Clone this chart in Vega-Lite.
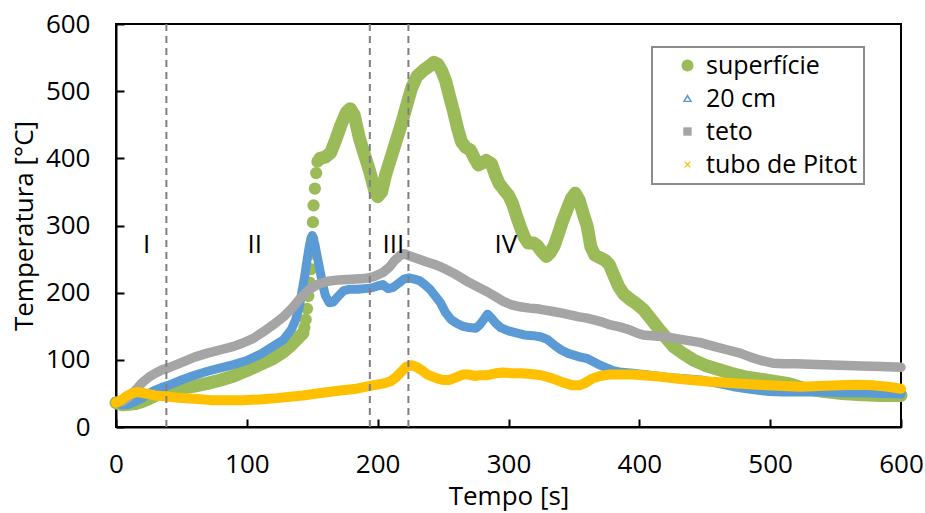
{
  "$schema": "https://vega.github.io/schema/vega-lite/v6.json",
  "width": 785,
  "height": 403,
  "autosize": {"type": "none"},
  "padding": {"left": 116, "top": 24, "right": 24, "bottom": 86},
  "background": "white",
  "config": {
    "font": "Open Sans",
    "view": {"stroke": "black", "strokeWidth": 2},
    "axis": {
      "grid": false,
      "domainColor": "black",
      "domainWidth": 2,
      "tickColor": "black",
      "tickWidth": 2,
      "tickSize": -8,
      "labelFontSize": 26,
      "labelColor": "black",
      "labelPadding": 34,
      "labelFlush": false,
      "titleFontSize": 26,
      "titleFontWeight": "normal",
      "titleColor": "black"
    },
    "legend": {
      "orient": "none",
      "legendX": 536,
      "legendY": 23,
      "strokeColor": "#8c8c8c",
      "strokeWidth": 2,
      "padding": 6,
      "labelFontSize": 25,
      "labelColor": "black",
      "symbolSize": 144,
      "rowPadding": 7,
      "symbolOffset": 17,
      "labelOffset": 6,
      "symbolStrokeWidth": 0
    }
  },
  "datasets": {
    "temps": [
      {"t": 0, "T": 36, "s": "superfície"}, {"t": 5, "T": 33, "s": "superfície"}, {"t": 10, "T": 34, "s": "superfície"}, {"t": 15, "T": 35, "s": "superfície"}, {"t": 20, "T": 38, "s": "superfície"}, {"t": 25, "T": 42, "s": "superfície"}, {"t": 30, "T": 47, "s": "superfície"}, {"t": 35, "T": 52, "s": "superfície"}, {"t": 40, "T": 55, "s": "superfície"}, {"t": 50, "T": 58, "s": "superfície"}, {"t": 60, "T": 61, "s": "superfície"}, {"t": 70, "T": 65, "s": "superfície"}, {"t": 80, "T": 70, "s": "superfície"}, {"t": 90, "T": 76, "s": "superfície"}, {"t": 100, "T": 84, "s": "superfície"}, {"t": 110, "T": 93, "s": "superfície"}, {"t": 120, "T": 102, "s": "superfície"}, {"t": 128, "T": 112, "s": "superfície"}, {"t": 134, "T": 122, "s": "superfície"}, {"t": 139, "T": 132, "s": "superfície"}, {"t": 143, "T": 140, "s": "superfície"},
      {"t": 144, "T": 148, "s": "superfície"}, {"t": 145, "T": 160, "s": "superfície"}, {"t": 146, "T": 176, "s": "superfície"}, {"t": 147, "T": 195, "s": "superfície"}, {"t": 148, "T": 215, "s": "superfície"}, {"t": 149, "T": 235, "s": "superfície"}, {"t": 149.5, "T": 258, "s": "superfície"}, {"t": 150, "T": 280, "s": "superfície"}, {"t": 150.5, "T": 305, "s": "superfície"}, {"t": 151, "T": 330, "s": "superfície"}, {"t": 152, "T": 355, "s": "superfície"}, {"t": 153, "T": 378, "s": "superfície"}, {"t": 154, "T": 395, "s": "superfície"},
      {"t": 156, "T": 400, "s": "superfície"}, {"t": 160, "T": 402, "s": "superfície"}, {"t": 164, "T": 408, "s": "superfície"}, {"t": 168, "T": 428, "s": "superfície"}, {"t": 172, "T": 450, "s": "superfície"}, {"t": 176, "T": 468, "s": "superfície"}, {"t": 179, "T": 474, "s": "superfície"}, {"t": 182, "T": 465, "s": "superfície"}, {"t": 186, "T": 430, "s": "superfície"}, {"t": 190, "T": 405, "s": "superfície"}, {"t": 194, "T": 380, "s": "superfície"}, {"t": 198, "T": 350, "s": "superfície"}, {"t": 200, "T": 343, "s": "superfície"}, {"t": 203, "T": 350, "s": "superfície"}, {"t": 206, "T": 375, "s": "superfície"}, {"t": 210, "T": 400, "s": "superfície"}, {"t": 214, "T": 425, "s": "superfície"}, {"t": 218, "T": 450, "s": "superfície"}, {"t": 222, "T": 478, "s": "superfície"}, {"t": 226, "T": 505, "s": "superfície"}, {"t": 230, "T": 522, "s": "superfície"}, {"t": 235, "T": 531, "s": "superfície"}, {"t": 240, "T": 538, "s": "superfície"}, {"t": 243, "T": 543, "s": "superfície"}, {"t": 246, "T": 540, "s": "superfície"}, {"t": 249, "T": 530, "s": "superfície"}, {"t": 252, "T": 515, "s": "superfície"}, {"t": 255, "T": 492, "s": "superfície"}, {"t": 258, "T": 470, "s": "superfície"}, {"t": 261, "T": 445, "s": "superfície"}, {"t": 264, "T": 425, "s": "superfície"}, {"t": 267, "T": 417, "s": "superfície"}, {"t": 271, "T": 412, "s": "superfície"}, {"t": 274, "T": 400, "s": "superfície"}, {"t": 277, "T": 390, "s": "superfície"}, {"t": 280, "T": 393, "s": "superfície"}, {"t": 283, "T": 397, "s": "superfície"}, {"t": 287, "T": 392, "s": "superfície"}, {"t": 290, "T": 375, "s": "superfície"}, {"t": 293, "T": 362, "s": "superfície"}, {"t": 297, "T": 352, "s": "superfície"}, {"t": 300, "T": 345, "s": "superfície"}, {"t": 303, "T": 333, "s": "superfície"}, {"t": 306, "T": 315, "s": "superfície"}, {"t": 309, "T": 298, "s": "superfície"}, {"t": 312, "T": 283, "s": "superfície"}, {"t": 315, "T": 274, "s": "superfície"}, {"t": 319, "T": 274, "s": "superfície"}, {"t": 322, "T": 270, "s": "superfície"}, {"t": 325, "T": 262, "s": "superfície"}, {"t": 329, "T": 254, "s": "superfície"}, {"t": 332, "T": 260, "s": "superfície"}, {"t": 335, "T": 270, "s": "superfície"}, {"t": 338, "T": 287, "s": "superfície"}, {"t": 341, "T": 305, "s": "superfície"}, {"t": 345, "T": 325, "s": "superfície"}, {"t": 348, "T": 340, "s": "superfície"}, {"t": 351, "T": 348, "s": "superfície"}, {"t": 354, "T": 338, "s": "superfície"}, {"t": 357, "T": 318, "s": "superfície"}, {"t": 360, "T": 300, "s": "superfície"}, {"t": 363, "T": 268, "s": "superfície"}, {"t": 366, "T": 256, "s": "superfície"}, {"t": 370, "T": 252, "s": "superfície"}, {"t": 374, "T": 248, "s": "superfície"}, {"t": 377, "T": 242, "s": "superfície"}, {"t": 380, "T": 228, "s": "superfície"}, {"t": 384, "T": 210, "s": "superfície"}, {"t": 388, "T": 198, "s": "superfície"}, {"t": 393, "T": 190, "s": "superfície"}, {"t": 398, "T": 183, "s": "superfície"}, {"t": 403, "T": 175, "s": "superfície"}, {"t": 408, "T": 163, "s": "superfície"}, {"t": 414, "T": 148, "s": "superfície"}, {"t": 420, "T": 134, "s": "superfície"}, {"t": 426, "T": 120, "s": "superfície"}, {"t": 433, "T": 110, "s": "superfície"}, {"t": 441, "T": 100, "s": "superfície"}, {"t": 450, "T": 92, "s": "superfície"}, {"t": 460, "T": 86, "s": "superfície"}, {"t": 470, "T": 80, "s": "superfície"}, {"t": 480, "T": 75, "s": "superfície"}, {"t": 490, "T": 72, "s": "superfície"}, {"t": 500, "T": 69, "s": "superfície"}, {"t": 513, "T": 65, "s": "superfície"}, {"t": 525, "T": 58, "s": "superfície"}, {"t": 540, "T": 53, "s": "superfície"}, {"t": 555, "T": 50, "s": "superfície"}, {"t": 570, "T": 48, "s": "superfície"}, {"t": 585, "T": 47, "s": "superfície"}, {"t": 600, "T": 47, "s": "superfície"},

      {"t": 0, "T": 36, "s": "20 cm"}, {"t": 5, "T": 33, "s": "20 cm"}, {"t": 10, "T": 34, "s": "20 cm"}, {"t": 15, "T": 38, "s": "20 cm"}, {"t": 20, "T": 43, "s": "20 cm"}, {"t": 25, "T": 50, "s": "20 cm"}, {"t": 30, "T": 55, "s": "20 cm"}, {"t": 35, "T": 59, "s": "20 cm"}, {"t": 40, "T": 62, "s": "20 cm"}, {"t": 50, "T": 70, "s": "20 cm"}, {"t": 60, "T": 77, "s": "20 cm"}, {"t": 70, "T": 83, "s": "20 cm"}, {"t": 80, "T": 88, "s": "20 cm"}, {"t": 90, "T": 93, "s": "20 cm"}, {"t": 100, "T": 99, "s": "20 cm"}, {"t": 110, "T": 108, "s": "20 cm"}, {"t": 120, "T": 120, "s": "20 cm"}, {"t": 128, "T": 130, "s": "20 cm"}, {"t": 134, "T": 145, "s": "20 cm"}, {"t": 137, "T": 158, "s": "20 cm"}, {"t": 140, "T": 178, "s": "20 cm"}, {"t": 142, "T": 200, "s": "20 cm"}, {"t": 144, "T": 222, "s": "20 cm"}, {"t": 146, "T": 248, "s": "20 cm"}, {"t": 148, "T": 272, "s": "20 cm"}, {"t": 150, "T": 285, "s": "20 cm"}, {"t": 152, "T": 272, "s": "20 cm"}, {"t": 154, "T": 252, "s": "20 cm"}, {"t": 156, "T": 232, "s": "20 cm"}, {"t": 158, "T": 212, "s": "20 cm"}, {"t": 160, "T": 196, "s": "20 cm"}, {"t": 163, "T": 185, "s": "20 cm"}, {"t": 166, "T": 186, "s": "20 cm"}, {"t": 170, "T": 195, "s": "20 cm"}, {"t": 174, "T": 203, "s": "20 cm"}, {"t": 178, "T": 205, "s": "20 cm"}, {"t": 185, "T": 205, "s": "20 cm"}, {"t": 190, "T": 206, "s": "20 cm"}, {"t": 195, "T": 207, "s": "20 cm"}, {"t": 200, "T": 210, "s": "20 cm"}, {"t": 204, "T": 212, "s": "20 cm"}, {"t": 208, "T": 206, "s": "20 cm"}, {"t": 212, "T": 208, "s": "20 cm"}, {"t": 216, "T": 214, "s": "20 cm"}, {"t": 220, "T": 220, "s": "20 cm"}, {"t": 224, "T": 222, "s": "20 cm"}, {"t": 228, "T": 220, "s": "20 cm"}, {"t": 232, "T": 218, "s": "20 cm"}, {"t": 236, "T": 212, "s": "20 cm"}, {"t": 240, "T": 205, "s": "20 cm"}, {"t": 244, "T": 195, "s": "20 cm"}, {"t": 248, "T": 185, "s": "20 cm"}, {"t": 252, "T": 170, "s": "20 cm"}, {"t": 256, "T": 160, "s": "20 cm"}, {"t": 260, "T": 155, "s": "20 cm"}, {"t": 265, "T": 150, "s": "20 cm"}, {"t": 270, "T": 148, "s": "20 cm"}, {"t": 275, "T": 147, "s": "20 cm"}, {"t": 278, "T": 152, "s": "20 cm"}, {"t": 281, "T": 160, "s": "20 cm"}, {"t": 284, "T": 168, "s": "20 cm"}, {"t": 287, "T": 162, "s": "20 cm"}, {"t": 290, "T": 155, "s": "20 cm"}, {"t": 294, "T": 148, "s": "20 cm"}, {"t": 300, "T": 143, "s": "20 cm"}, {"t": 306, "T": 140, "s": "20 cm"}, {"t": 312, "T": 137, "s": "20 cm"}, {"t": 319, "T": 136, "s": "20 cm"}, {"t": 325, "T": 134, "s": "20 cm"}, {"t": 330, "T": 130, "s": "20 cm"}, {"t": 335, "T": 122, "s": "20 cm"}, {"t": 340, "T": 115, "s": "20 cm"}, {"t": 345, "T": 110, "s": "20 cm"}, {"t": 350, "T": 107, "s": "20 cm"}, {"t": 355, "T": 104, "s": "20 cm"}, {"t": 360, "T": 102, "s": "20 cm"}, {"t": 365, "T": 97, "s": "20 cm"}, {"t": 370, "T": 92, "s": "20 cm"}, {"t": 375, "T": 88, "s": "20 cm"}, {"t": 380, "T": 84, "s": "20 cm"}, {"t": 385, "T": 82, "s": "20 cm"}, {"t": 395, "T": 80, "s": "20 cm"}, {"t": 405, "T": 78, "s": "20 cm"}, {"t": 420, "T": 74, "s": "20 cm"}, {"t": 435, "T": 72, "s": "20 cm"}, {"t": 447, "T": 70, "s": "20 cm"}, {"t": 460, "T": 65, "s": "20 cm"}, {"t": 472, "T": 60, "s": "20 cm"}, {"t": 485, "T": 56, "s": "20 cm"}, {"t": 498, "T": 53, "s": "20 cm"}, {"t": 510, "T": 52, "s": "20 cm"}, {"t": 525, "T": 52, "s": "20 cm"}, {"t": 540, "T": 52, "s": "20 cm"}, {"t": 555, "T": 51, "s": "20 cm"}, {"t": 570, "T": 51, "s": "20 cm"}, {"t": 585, "T": 50, "s": "20 cm"}, {"t": 600, "T": 49, "s": "20 cm"},

      {"t": 0, "T": 36, "s": "teto"}, {"t": 5, "T": 38, "s": "teto"}, {"t": 10, "T": 45, "s": "teto"}, {"t": 15, "T": 55, "s": "teto"}, {"t": 20, "T": 66, "s": "teto"}, {"t": 25, "T": 74, "s": "teto"}, {"t": 30, "T": 80, "s": "teto"}, {"t": 35, "T": 85, "s": "teto"}, {"t": 40, "T": 88, "s": "teto"}, {"t": 50, "T": 96, "s": "teto"}, {"t": 60, "T": 104, "s": "teto"}, {"t": 70, "T": 110, "s": "teto"}, {"t": 80, "T": 115, "s": "teto"}, {"t": 90, "T": 120, "s": "teto"}, {"t": 97, "T": 125, "s": "teto"}, {"t": 105, "T": 132, "s": "teto"}, {"t": 112, "T": 141, "s": "teto"}, {"t": 120, "T": 152, "s": "teto"}, {"t": 128, "T": 164, "s": "teto"}, {"t": 135, "T": 178, "s": "teto"}, {"t": 141, "T": 192, "s": "teto"}, {"t": 148, "T": 205, "s": "teto"}, {"t": 155, "T": 213, "s": "teto"}, {"t": 162, "T": 217, "s": "teto"}, {"t": 170, "T": 219, "s": "teto"}, {"t": 180, "T": 220, "s": "teto"}, {"t": 190, "T": 221, "s": "teto"}, {"t": 197, "T": 224, "s": "teto"}, {"t": 204, "T": 230, "s": "teto"}, {"t": 209, "T": 238, "s": "teto"}, {"t": 213, "T": 248, "s": "teto"}, {"t": 217, "T": 255, "s": "teto"}, {"t": 220, "T": 258, "s": "teto"}, {"t": 224, "T": 255, "s": "teto"}, {"t": 230, "T": 251, "s": "teto"}, {"t": 237, "T": 246, "s": "teto"}, {"t": 245, "T": 241, "s": "teto"}, {"t": 252, "T": 235, "s": "teto"}, {"t": 258, "T": 229, "s": "teto"}, {"t": 264, "T": 222, "s": "teto"}, {"t": 270, "T": 215, "s": "teto"}, {"t": 277, "T": 208, "s": "teto"}, {"t": 284, "T": 201, "s": "teto"}, {"t": 290, "T": 194, "s": "teto"}, {"t": 296, "T": 187, "s": "teto"}, {"t": 302, "T": 182, "s": "teto"}, {"t": 309, "T": 179, "s": "teto"}, {"t": 316, "T": 177, "s": "teto"}, {"t": 322, "T": 176, "s": "teto"}, {"t": 328, "T": 174, "s": "teto"}, {"t": 334, "T": 172, "s": "teto"}, {"t": 340, "T": 170, "s": "teto"}, {"t": 347, "T": 167, "s": "teto"}, {"t": 354, "T": 164, "s": "teto"}, {"t": 360, "T": 162, "s": "teto"}, {"t": 366, "T": 159, "s": "teto"}, {"t": 372, "T": 156, "s": "teto"}, {"t": 378, "T": 152, "s": "teto"}, {"t": 385, "T": 149, "s": "teto"}, {"t": 392, "T": 145, "s": "teto"}, {"t": 398, "T": 140, "s": "teto"}, {"t": 403, "T": 137, "s": "teto"}, {"t": 410, "T": 136, "s": "teto"}, {"t": 421, "T": 134, "s": "teto"}, {"t": 433, "T": 130, "s": "teto"}, {"t": 446, "T": 126, "s": "teto"}, {"t": 457, "T": 120, "s": "teto"}, {"t": 467, "T": 115, "s": "teto"}, {"t": 477, "T": 110, "s": "teto"}, {"t": 485, "T": 104, "s": "teto"}, {"t": 493, "T": 99, "s": "teto"}, {"t": 502, "T": 95, "s": "teto"}, {"t": 510, "T": 94, "s": "teto"}, {"t": 520, "T": 94, "s": "teto"}, {"t": 535, "T": 93, "s": "teto"}, {"t": 553, "T": 92, "s": "teto"}, {"t": 570, "T": 91, "s": "teto"}, {"t": 585, "T": 90, "s": "teto"}, {"t": 600, "T": 89, "s": "teto"},

      {"t": 0, "T": 36, "s": "tubo de Pitot"}, {"t": 4, "T": 40, "s": "tubo de Pitot"}, {"t": 8, "T": 46, "s": "tubo de Pitot"}, {"t": 12, "T": 50, "s": "tubo de Pitot"}, {"t": 16, "T": 52, "s": "tubo de Pitot"}, {"t": 20, "T": 51, "s": "tubo de Pitot"}, {"t": 25, "T": 49, "s": "tubo de Pitot"}, {"t": 30, "T": 47, "s": "tubo de Pitot"}, {"t": 40, "T": 45, "s": "tubo de Pitot"}, {"t": 50, "T": 43, "s": "tubo de Pitot"}, {"t": 60, "T": 42, "s": "tubo de Pitot"}, {"t": 72, "T": 40, "s": "tubo de Pitot"}, {"t": 85, "T": 40, "s": "tubo de Pitot"}, {"t": 97, "T": 40, "s": "tubo de Pitot"}, {"t": 110, "T": 41, "s": "tubo de Pitot"}, {"t": 123, "T": 43, "s": "tubo de Pitot"}, {"t": 133, "T": 45, "s": "tubo de Pitot"}, {"t": 143, "T": 47, "s": "tubo de Pitot"}, {"t": 158, "T": 51, "s": "tubo de Pitot"}, {"t": 170, "T": 54, "s": "tubo de Pitot"}, {"t": 184, "T": 57, "s": "tubo de Pitot"}, {"t": 196, "T": 62, "s": "tubo de Pitot"}, {"t": 205, "T": 65, "s": "tubo de Pitot"}, {"t": 210, "T": 68, "s": "tubo de Pitot"}, {"t": 214, "T": 74, "s": "tubo de Pitot"}, {"t": 218, "T": 82, "s": "tubo de Pitot"}, {"t": 222, "T": 90, "s": "tubo de Pitot"}, {"t": 226, "T": 92, "s": "tubo de Pitot"}, {"t": 230, "T": 89, "s": "tubo de Pitot"}, {"t": 234, "T": 84, "s": "tubo de Pitot"}, {"t": 238, "T": 78, "s": "tubo de Pitot"}, {"t": 242, "T": 75, "s": "tubo de Pitot"}, {"t": 246, "T": 72, "s": "tubo de Pitot"}, {"t": 250, "T": 70, "s": "tubo de Pitot"}, {"t": 255, "T": 70, "s": "tubo de Pitot"}, {"t": 260, "T": 74, "s": "tubo de Pitot"}, {"t": 265, "T": 78, "s": "tubo de Pitot"}, {"t": 270, "T": 78, "s": "tubo de Pitot"}, {"t": 274, "T": 76, "s": "tubo de Pitot"}, {"t": 278, "T": 77, "s": "tubo de Pitot"}, {"t": 283, "T": 77, "s": "tubo de Pitot"}, {"t": 290, "T": 80, "s": "tubo de Pitot"}, {"t": 296, "T": 81, "s": "tubo de Pitot"}, {"t": 303, "T": 80, "s": "tubo de Pitot"}, {"t": 310, "T": 80, "s": "tubo de Pitot"}, {"t": 317, "T": 79, "s": "tubo de Pitot"}, {"t": 325, "T": 77, "s": "tubo de Pitot"}, {"t": 334, "T": 72, "s": "tubo de Pitot"}, {"t": 342, "T": 66, "s": "tubo de Pitot"}, {"t": 349, "T": 62, "s": "tubo de Pitot"}, {"t": 354, "T": 62, "s": "tubo de Pitot"}, {"t": 358, "T": 65, "s": "tubo de Pitot"}, {"t": 364, "T": 72, "s": "tubo de Pitot"}, {"t": 370, "T": 76, "s": "tubo de Pitot"}, {"t": 377, "T": 78, "s": "tubo de Pitot"}, {"t": 385, "T": 78, "s": "tubo de Pitot"}, {"t": 395, "T": 78, "s": "tubo de Pitot"}, {"t": 403, "T": 77, "s": "tubo de Pitot"}, {"t": 415, "T": 75, "s": "tubo de Pitot"}, {"t": 433, "T": 71, "s": "tubo de Pitot"}, {"t": 450, "T": 68, "s": "tubo de Pitot"}, {"t": 472, "T": 65, "s": "tubo de Pitot"}, {"t": 490, "T": 63, "s": "tubo de Pitot"}, {"t": 510, "T": 61, "s": "tubo de Pitot"}, {"t": 523, "T": 60, "s": "tubo de Pitot"}, {"t": 538, "T": 61, "s": "tubo de Pitot"}, {"t": 553, "T": 62, "s": "tubo de Pitot"}, {"t": 566, "T": 63, "s": "tubo de Pitot"}, {"t": 579, "T": 62, "s": "tubo de Pitot"}, {"t": 590, "T": 60, "s": "tubo de Pitot"}, {"t": 600, "T": 57, "s": "tubo de Pitot"}
    ],
    "phases": [{"t": 38.5}, {"t": 194}, {"t": 223.5}],
    "labels": [
      {"t": 23.5, "T": 271, "label": "I"},
      {"t": 106, "T": 271, "label": "II"},
      {"t": 212, "T": 271, "label": "III"},
      {"t": 298, "T": 271, "label": "IV"}
    ]
  },
  "resolve": {"legend": {"color": "independent", "shape": "independent"}},
  "layer": [
    {
      "data": {"name": "temps"},
      "transform": [{"filter": "datum.s === 'superfície' && datum.t <= 143"}],
      "mark": {"type": "line", "color": "#9BBB59", "strokeWidth": 13, "strokeCap": "round", "strokeJoin": "round"},
      "encoding": {
        "x": {"field": "t", "type": "quantitative", "scale": {"domain": [0, 600], "nice": false}, "axis": {"title": "Tempo [s]", "values": [0, 100, 200, 300, 400, 500, 600], "labelPadding": 32, "titlePadding": 6}},
        "y": {"field": "T", "type": "quantitative", "scale": {"domain": [0, 600], "nice": false}, "axis": {"title": "Temperatura [°C]", "values": [0, 100, 200, 300, 400, 500, 600], "titlePadding": 8}}
      }
    },
    {
      "data": {"name": "temps"},
      "transform": [{"filter": "datum.s === 'superfície' && datum.t >= 156"}],
      "mark": {"type": "line", "color": "#9BBB59", "strokeWidth": 13, "strokeCap": "round", "strokeJoin": "round"},
      "encoding": {
        "x": {"field": "t", "type": "quantitative"},
        "y": {"field": "T", "type": "quantitative"}
      }
    },
    {
      "data": {"name": "temps"},
      "transform": [{"filter": "datum.s === 'superfície' && datum.t >= 144 && datum.t <= 156"}],
      "mark": {"type": "point", "filled": true, "size": 150, "opacity": 1},
      "encoding": {
        "x": {"field": "t", "type": "quantitative"},
        "y": {"field": "T", "type": "quantitative"},
        "color": {
          "field": "s", "type": "nominal",
          "scale": {"domain": ["superfície", "20 cm", "teto", "tubo de Pitot"], "range": ["#9BBB59", "#5B9BD5", "#A5A5A5", "#FFC000"]},
          "legend": {"title": null}
        },
        "shape": {
          "field": "s", "type": "nominal",
          "scale": {"domain": ["superfície", "20 cm", "teto", "tubo de Pitot"], "range": ["circle", "M0,-0.75L0.8,0.6L-0.8,0.6Z M0,-0.22L-0.38,0.36L0.38,0.36Z", "M-0.7,-0.7H0.7V0.7H-0.7Z", "M-0.55,-0.4L-0.4,-0.55L0,-0.15L0.4,-0.55L0.55,-0.4L0.15,0L0.55,0.4L0.4,0.55L0,0.15L-0.4,0.55L-0.55,0.4L-0.15,0Z"]},
          "legend": {"title": null}
        }
      }
    },
    {
      "data": {"name": "temps"},
      "transform": [{"filter": "datum.s !== 'superfície'"}],
      "mark": {"type": "line", "strokeCap": "round", "strokeJoin": "round"},
      "encoding": {
        "x": {"field": "t", "type": "quantitative"},
        "y": {"field": "T", "type": "quantitative"},
        "color": {"field": "s", "type": "nominal", "legend": null},
        "strokeWidth": {"field": "s", "type": "nominal", "scale": {"domain": ["20 cm", "teto", "tubo de Pitot"], "range": [9, 10, 9]}, "legend": null},
        "order": {"value": 0}
      }
    },
    {
      "data": {"name": "phases"},
      "mark": {"type": "rule", "color": "#7F7F7F", "strokeWidth": 2, "strokeDash": [7, 5]},
      "encoding": {"x": {"field": "t", "type": "quantitative"}}
    },
    {
      "data": {"name": "labels"},
      "mark": {"type": "text", "fontSize": 26, "color": "black", "align": "center", "baseline": "middle"},
      "encoding": {
        "x": {"field": "t", "type": "quantitative"},
        "y": {"field": "T", "type": "quantitative"},
        "text": {"field": "label"}
      }
    }
  ]
}
